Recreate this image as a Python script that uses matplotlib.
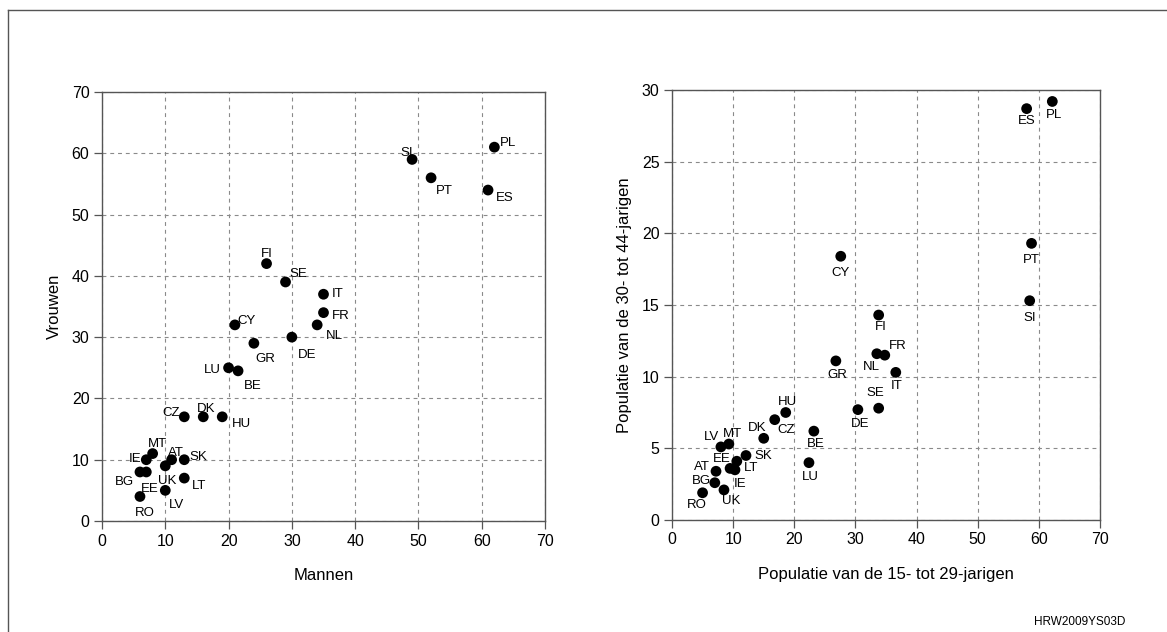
import matplotlib
matplotlib.use("Agg")
import matplotlib.pyplot as plt
from matplotlib.lines import Line2D

plt.rcParams['font.family'] = ['Liberation Sans', 'DejaVu Sans']

# ---------------- data ----------------
left_codes = ["PL", "SI", "PT", "ES", "FI", "SE", "IT", "FR", "NL", "CY", "DE", "GR",
              "LU", "BE", "CZ", "DK", "HU", "MT", "IE", "AT", "SK", "BG", "EE", "UK",
              "LT", "LV", "RO"]
left_men = [62, 49, 52, 61, 26, 29, 35, 35, 34, 21, 30, 24,
            20, 21.5, 13, 16, 19, 8, 7, 11, 13, 6, 7, 10,
            13, 10, 6]
left_women = [61, 59, 56, 54, 42, 39, 37, 34, 32, 32, 30, 29,
              25, 24.5, 17, 17, 17, 11, 10, 10, 10, 8, 8, 9,
              7, 5, 4]

right_codes = ["PL", "ES", "CY", "PT", "SI", "FI", "FR", "NL", "GR", "IT", "SE", "DE",
               "HU", "CZ", "DK", "BE", "LU", "LV", "MT", "SK", "EE", "LT", "IE",
               "AT", "BG", "UK", "RO"]
right_15_29 = [62.2, 58.0, 27.6, 58.8, 58.5, 33.8, 34.8, 33.5, 26.8, 36.6, 33.8, 30.4,
               18.6, 16.8, 15.0, 23.2, 22.4, 8.0, 9.3, 12.1, 9.5, 10.6, 10.3,
               7.2, 7.0, 8.5, 5.0]
right_30_44 = [29.2, 28.7, 18.4, 19.3, 15.3, 14.3, 11.5, 11.6, 11.1, 10.3, 7.8, 7.7,
               7.5, 7.0, 5.7, 6.2, 4.0, 5.1, 5.3, 4.5, 3.6, 4.1, 3.5,
               3.4, 2.6, 2.1, 1.9]

x_ticks = [0, 10, 20, 30, 40, 50, 60, 70]
left_yticks = [0, 10, 20, 30, 40, 50, 60, 70]
right_yticks = [0, 5, 10, 15, 20, 25, 30]

left_xlabel = "Mannen"
left_ylabel = "Vrouwen"
right_xlabel = "Populatie van de 15- tot 29-jarigen"
right_ylabel = "Populatie van de 30- tot 44-jarigen"
source_text = "HRW2009YS03D"

# label offsets in pixels (dx right, dy up)
left_offsets = {
    "PL": (14, 4), "SI": (-5, 6), "PT": (13, -13), "ES": (17, -8), "FI": (0, 10),
    "SE": (13, 8), "IT": (14, 0), "FR": (17, -3), "NL": (17, -11), "CY": (12, 4),
    "DE": (15, -18), "GR": (11, -16), "LU": (-16, -2), "BE": (15, -15),
    "CZ": (-13, 4), "DK": (3, 8), "HU": (19, -7), "MT": (5, 10), "IE": (-11, 1),
    "AT": (4, 7), "SK": (14, 3), "BG": (-16, -10), "EE": (3, -17), "UK": (2, -15),
    "LT": (15, -8), "LV": (11, -15), "RO": (5, -17),
}
right_offsets = {
    "PL": (2, -14), "ES": (0, -12), "CY": (0, -17), "PT": (0, -17), "SI": (0, -17),
    "FI": (2, -12), "FR": (13, 9), "NL": (-5, -13), "GR": (1, -14), "IT": (1, -14),
    "SE": (-3, 15), "DE": (2, -14), "HU": (2, 11), "CZ": (11, -10), "DK": (-7, 10),
    "BE": (2, -13), "LU": (1, -14), "LV": (-9, 10), "MT": (4, 10), "SK": (17, 0),
    "EE": (-8, 9), "LT": (14, -7), "IE": (5, -14), "AT": (-14, 4), "BG": (-13, 2),
    "UK": (7, -11), "RO": (-6, -12),
}

DPI = 100
fig = plt.figure(figsize=(11.67, 6.32), dpi=DPI)

SPINE = "#555555"
GRID = "#8a8a8a"


def style_axes(ax, yticks):
    ax.set_xlim(0, 70)
    ax.set_ylim(yticks[0], yticks[-1])
    ax.set_xticks(x_ticks)
    ax.set_yticks(yticks)
    for s in ax.spines.values():
        s.set_color(SPINE)
        s.set_linewidth(1.0)
    ax.tick_params(direction='out', length=6, width=0.9, color=SPINE,
                   labelsize=11.5, labelcolor='black', pad=3)
    ax.grid(True, linestyle=(0, (3.5, 3.5)), color=GRID, linewidth=0.8)
    ax.set_axisbelow(True)


def plot_panel(ax, codes, xs, ys, offsets):
    ax.scatter(xs, ys, s=60, color='black', zorder=3, edgecolors='none')
    for c, x, y in zip(codes, xs, ys):
        dx, dy = offsets.get(c, (0, 0))
        ax.annotate(c, (x, y), xytext=(dx * 72 / DPI, dy * 72 / DPI),
                    textcoords='offset points', ha='center', va='center',
                    fontsize=9.5, color='black', zorder=4)


ax1 = fig.add_axes([102 / 1167, 1 - 521 / 632, 443 / 1167, 429 / 632])
style_axes(ax1, left_yticks)
plot_panel(ax1, left_codes, left_men, left_women, left_offsets)
ax1.set_xlabel(left_xlabel, fontsize=12, labelpad=14)
ax1.set_ylabel(left_ylabel, fontsize=12, labelpad=7)

ax2 = fig.add_axes([672 / 1167, 1 - 520 / 632, 428 / 1167, 430 / 632])
style_axes(ax2, right_yticks)
plot_panel(ax2, right_codes, right_15_29, right_30_44, right_offsets)
ax2.set_xlabel(right_xlabel, fontsize=12, labelpad=14)
ax2.set_ylabel(right_ylabel, fontsize=12, labelpad=7)

# figure frame (top and left)
fig.add_artist(Line2D([8 / 1167, 1.0], [1 - 10 / 632, 1 - 10 / 632],
                      transform=fig.transFigure, color=SPINE, linewidth=1.0))
fig.add_artist(Line2D([8 / 1167, 8 / 1167], [0.0, 1 - 10 / 632],
                      transform=fig.transFigure, color=SPINE, linewidth=1.0))

fig.text(1080 / 1167, 1 - 622 / 632, source_text, ha='center', va='center',
         fontsize=8.5, color='black')

fig.savefig("out.png", dpi=DPI)
